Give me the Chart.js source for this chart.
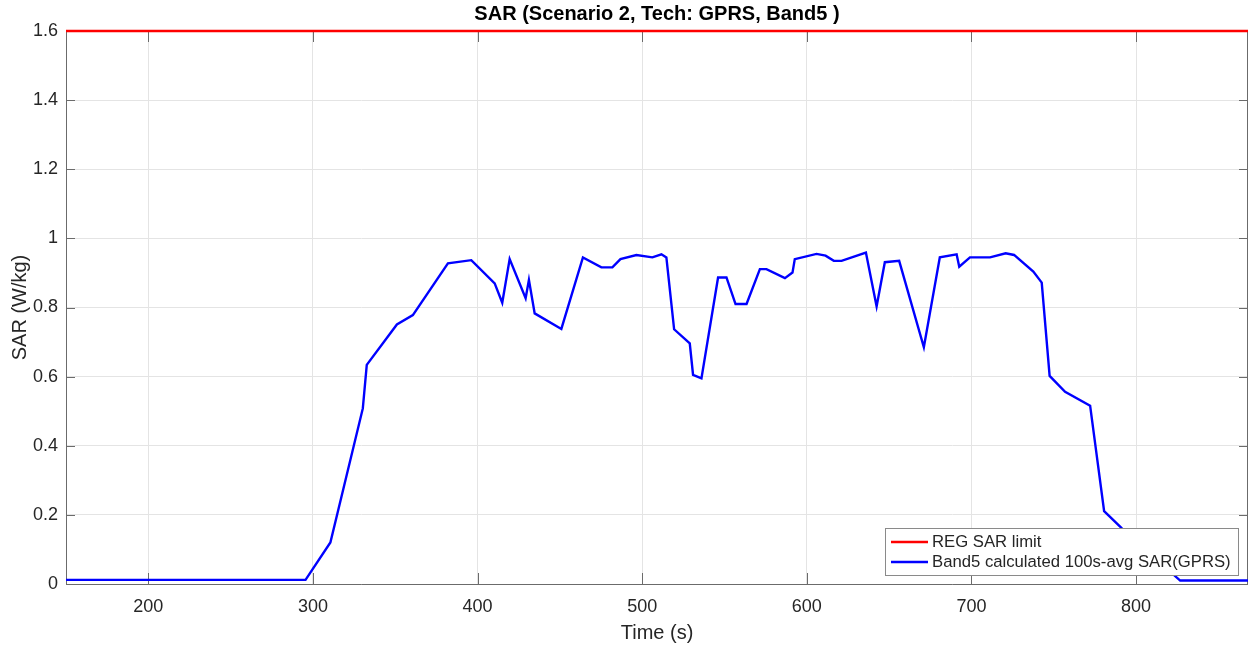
<!DOCTYPE html>
<html>
<head>
<meta charset="utf-8">
<script src="https://cdn.jsdelivr.net/npm/chart.js@4.4.1/dist/chart.umd.min.js"></script>
<style>
  html, body { margin: 0; padding: 0; background: #ffffff; }
  #wrap { position: relative; width: 1250px; height: 646px; }
  canvas { display: block; }
</style>
</head>
<body>
<div id="wrap"><canvas id="c" width="1250" height="646"></canvas></div>
<script>
// ---- data ----
const chartTitle = 'SAR (Scenario 2, Tech: GPRS, Band5 )';
const xTitle = 'Time (s)';
const yTitle = 'SAR (W/kg)';
const limitLabel = 'REG SAR limit';
const bandLabel = 'Band5 calculated 100s-avg SAR(GPRS)';

const limitTimes = [150, 868];
const limitSar = [1.6, 1.6];

const times = [150, 295.5, 310.6, 330.3, 332.7, 351, 360.7, 382, 396.2, 410.4, 415, 419.5, 429.2, 431.2, 434.7, 450.9, 464, 475.2, 481.9, 486.8, 496.5, 506.2, 511.7, 514.7, 519.4, 528.9, 530.9, 536, 546.1, 551.2, 556.7, 563.4, 571.5, 575.5, 586.7, 591.3, 592.7, 605.9, 611.4, 616.4, 621.1, 635.9, 642.4, 647.4, 656.1, 671.1, 680.8, 691, 692.6, 699.1, 711.3, 720.8, 725.9, 737.6, 742.7, 747.5, 756.9, 772.1, 780.6, 791.4, 826.8, 868];
const sar = [0.012, 0.012, 0.12, 0.508, 0.634, 0.751, 0.778, 0.928, 0.937, 0.870, 0.814, 0.940, 0.827, 0.880, 0.783, 0.738, 0.945, 0.916, 0.916, 0.940, 0.952, 0.945, 0.954, 0.945, 0.737, 0.696, 0.605, 0.595, 0.887, 0.887, 0.810, 0.810, 0.911, 0.911, 0.885, 0.901, 0.940, 0.955, 0.950, 0.935, 0.935, 0.959, 0.803, 0.931, 0.935, 0.685, 0.945, 0.954, 0.918, 0.945, 0.945, 0.957, 0.952, 0.904, 0.872, 0.602, 0.556, 0.516, 0.211, 0.161, 0.010, 0.010];

const xTickValues = [200, 300, 400, 500, 600, 700, 800];
const yTickValues = [0, 0.2, 0.4, 0.6, 0.8, 1, 1.2, 1.4, 1.6];
const yTickLabels = ['0', '0.2', '0.4', '0.6', '0.8', '1', '1.2', '1.4', '1.6'];

// ---- styling ----
const FONT = '"Liberation Sans", Arial, Helvetica, sans-serif';
const TEXT = '#262626';
const AXIS = '#6b6b6b';
const GRID = '#e4e4e4';

const framePlugin = {
  id: 'frame',
  beforeDatasetsDraw(chart) {
    const { ctx, chartArea: a, scales } = chart;
    ctx.save();
    ctx.strokeStyle = AXIS;
    ctx.lineWidth = 1;
    ctx.beginPath();
    ctx.rect(Math.round(a.left) + 0.5, Math.round(a.top) + 0.5, Math.round(a.right - a.left) - 1, Math.round(a.bottom - a.top));
    ctx.stroke();
    // inward tick marks
    ctx.beginPath();
    xTickValues.forEach(v => {
      const px = Math.round(scales.x.getPixelForValue(v)) + 0.5;
      ctx.moveTo(px, a.bottom); ctx.lineTo(px, a.bottom - 11);
      ctx.moveTo(px, a.top); ctx.lineTo(px, a.top + 11);
    });
    yTickValues.forEach(v => {
      const py = Math.round(scales.y.getPixelForValue(v)) + 0.5;
      ctx.moveTo(a.left, py); ctx.lineTo(a.left + 9, py);
      ctx.moveTo(a.right, py); ctx.lineTo(a.right - 9, py);
    });
    ctx.stroke();
    ctx.restore();
  },
  afterDatasetsDraw(chart) {
    const { ctx, chartArea: a } = chart;
    ctx.save();
    // title
    ctx.fillStyle = '#000000';
    ctx.font = 'bold 20px ' + FONT;
    ctx.textAlign = 'center';
    ctx.textBaseline = 'middle';
    ctx.fillText(chartTitle, (a.left + a.right) / 2, 14);
    // legend box inside plot, bottom right
    const bx = 885, by = 528, bw = 353, bh = 47;
    ctx.fillStyle = '#ffffff';
    ctx.fillRect(bx, by, bw, bh);
    ctx.strokeStyle = '#8a8a8a';
    ctx.lineWidth = 1;
    ctx.strokeRect(bx + 0.5, by + 0.5, bw, bh);
    ctx.font = '16.7px ' + FONT;
    ctx.textAlign = 'left';
    ctx.textBaseline = 'middle';
    chart.data.datasets.forEach((ds, i) => {
      const ly = by + 14 + i * 20;
      ctx.strokeStyle = ds.borderColor;
      ctx.lineWidth = 2.5;
      ctx.beginPath();
      ctx.moveTo(bx + 6, ly); ctx.lineTo(bx + 43, ly);
      ctx.stroke();
      ctx.fillStyle = TEXT;
      ctx.fillText(ds.label, bx + 47, ly);
    });
    ctx.restore();
  }
};

new Chart(document.getElementById('c'), {
  type: 'line',
  data: {
    datasets: [
      {
        label: limitLabel,
        data: limitTimes.map((x, i) => ({ x, y: limitSar[i] })),
        borderColor: '#ff0000',
        borderWidth: 2.6,
        pointRadius: 0,
        tension: 0,
        fill: false
      },
      {
        label: bandLabel,
        data: times.map((x, i) => ({ x, y: sar[i] })),
        borderColor: '#0000ff',
        borderWidth: 2.4,
        pointRadius: 0,
        tension: 0,
        fill: false
      }
    ]
  },
  options: {
    responsive: false,
    animation: false,
    clip: false,
    layout: { padding: { top: 31, right: 2, left: 0, bottom: 0 } },
    plugins: {
      legend: { display: false },
      title: { display: false },
      tooltip: { enabled: false }
    },
    scales: {
      x: {
        type: 'linear',
        min: 150,
        max: 868,
        afterBuildTicks: s => { s.ticks = xTickValues.map(v => ({ value: v })); },
        afterFit: s => { s.height = 62; },
        grid: { color: GRID, drawTicks: false, lineWidth: 1 },
        border: { display: false },
        ticks: {
          padding: 12,
          color: TEXT,
          font: { family: FONT, size: 18 },
          maxRotation: 0,
          callback: v => String(v)
        },
        title: {
          display: true,
          text: xTitle,
          color: TEXT,
          font: { family: FONT, size: 20 },
          padding: { top: 0, bottom: 1 }
        }
      },
      y: {
        type: 'linear',
        min: 0,
        max: 1.6,
        afterBuildTicks: s => { s.ticks = yTickValues.map(v => ({ value: v })); },
        afterFit: s => { s.width = 66; },
        grid: { color: GRID, drawTicks: false, lineWidth: 1 },
        border: { display: false },
        ticks: {
          padding: 8,
          color: TEXT,
          font: { family: FONT, size: 18 },
          callback: (v) => yTickLabels[yTickValues.indexOf(v)] ?? ''
        },
        title: {
          display: true,
          text: yTitle,
          color: TEXT,
          font: { family: FONT, size: 20 },
          padding: { top: 8, bottom: 0 }
        }
      }
    }
  },
  plugins: [framePlugin]
});
</script>
</body>
</html>
